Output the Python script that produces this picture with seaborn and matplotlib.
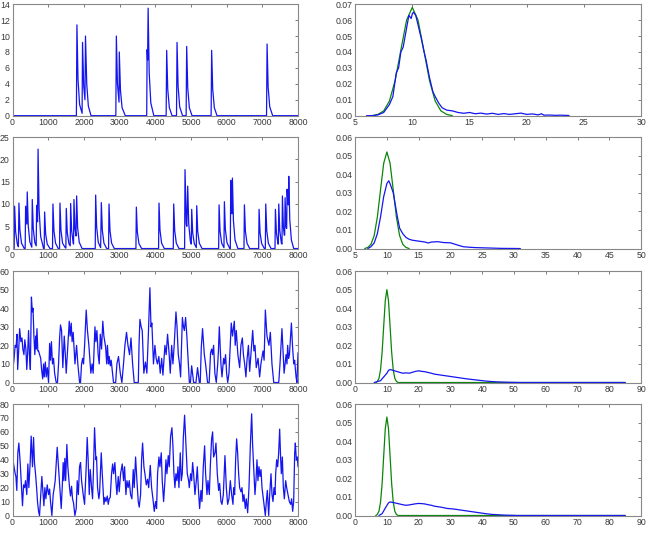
import numpy as np
import pandas as pd
import seaborn as sns
import matplotlib.pyplot as plt
from matplotlib.ticker import FormatStrFormatter

# --- time series (left column), vertices: (time, value) ---
ts1 = [(0, 0), (1790, 0), (1805, 11.4), (1835, 4.6), (1880, 1.4), (1950, 0.3), (1962, 9.2),
       (1995, 3.7), (2030, 2.0), (2045, 10.0), (2080, 4.0), (2125, 1.2), (2200, 0),
       (2895, 0), (2910, 10.0), (2940, 4.0), (2985, 1.7), (2992, 8.0), (3025, 3.2), (3070, 1.0),
       (3160, 0), (3760, 0), (3772, 8.3), (3785, 7.0), (3800, 13.5), (3830, 5.4), (3875, 1.6),
       (3960, 0), (4305, 0), (4320, 8.2), (4350, 3.3), (4395, 1.0), (4470, 0), (4595, 0),
       (4610, 9.2), (4640, 3.7), (4685, 1.1), (4765, 0), (4865, 0), (4880, 8.7), (4910, 3.5),
       (4955, 1.0), (5030, 0), (5565, 0), (5580, 8.2), (5610, 3.3), (5655, 1.0), (5730, 0),
       (7118, 0), (7133, 9.0), (7163, 3.6), (7208, 1.1), (7290, 0), (8000, 0)]

ts2 = [(0, 0), (47, 0), (59, 9.5), (87, 3.8), (132, 1.1), (165, 0.4), (180, 10.2), (208, 4.1),
       (253, 1.2), (330, 0), (355, 0), (367, 9.5), (400, 5.5), (413, 12.7), (441, 5.1),
       (486, 1.5), (540, 0.3), (554, 11.0), (582, 4.4), (627, 1.3), (664, 0.6), (676, 9.7),
       (702, 6.0), (716, 22.3), (744, 8.9), (789, 2.7), (870, 0), (888, 0), (900, 8.2),
       (928, 3.3), (973, 1.0), (1050, 0), (1121, 0), (1133, 10.0), (1161, 4.0), (1206, 1.2),
       (1281, 0), (1318, 0), (1330, 10.2), (1358, 4.1), (1403, 1.2), (1478, 0.2), (1495, 0.1),
       (1507, 9.0), (1535, 3.6), (1580, 1.1), (1617, 0.6), (1629, 10.1), (1657, 4.0),
       (1702, 1.2), (1710, 1.0), (1722, 11.0), (1750, 4.4), (1780, 2.8), (1797, 11.8),
       (1825, 4.7), (1870, 1.4), (1950, 0), (2318, 0), (2330, 12.0), (2358, 4.8), (2403, 1.4),
       (2470, 0.2), (2489, 10.3), (2517, 4.1), (2562, 1.2), (2640, 0), (2692, 0), (2704, 10.0),
       (2732, 4.0), (2777, 1.2), (2852, 0), (3458, 0), (3470, 9.3), (3498, 3.7), (3543, 1.1),
       (3618, 0), (4093, 0), (4105, 10.2), (4133, 4.1), (4178, 1.2), (4253, 0), (4505, 0),
       (4517, 10.0), (4545, 4.0), (4590, 1.2), (4665, 0), (4822, 0), (4834, 17.7), (4869, 5.5),
       (4885, 5.0), (4909, 14.0), (4937, 5.6), (4982, 1.7), (5009, 1.0), (5021, 8.8),
       (5049, 3.5), (5094, 1.1), (5150, 0.2), (5162, 9.6), (5190, 3.8), (5235, 1.2), (5310, 0),
       (5776, 0), (5788, 9.8), (5816, 3.9), (5861, 1.2), (5925, 0.2), (5937, 10.5), (5965, 4.2),
       (6010, 1.3), (6090, 0), (6103, 0), (6115, 15.3), (6138, 8.0), (6150, 7.8), (6162, 15.8),
       (6190, 6.3), (6235, 1.9), (6315, 0), (6486, 0), (6498, 9.8), (6526, 3.9), (6571, 1.2),
       (6646, 0), (6897, 0), (6909, 8.8), (6937, 3.5), (6982, 1.1), (7057, 0), (7084, 0),
       (7096, 10.0), (7124, 4.0), (7169, 1.2), (7244, 0), (7355, 0), (7367, 8.8), (7395, 3.5),
       (7440, 1.0), (7449, 1.0), (7461, 10.0), (7489, 4.0), (7534, 1.2), (7551, 1.0),
       (7563, 11.8), (7591, 4.7), (7615, 3.0), (7626, 3.0), (7638, 11.4), (7665, 4.8),
       (7682, 4.5), (7694, 13.3), (7715, 10.0), (7729, 9.8), (7741, 16.2), (7769, 6.5),
       (7814, 1.9), (7880, 0), (8000, 0)]

ts3 = [(0, 5.5), (40, 12), (75, 20), (100, 19), (125, 26), (145, 7), (175, 18), (200, 29),
       (235, 22), (265, 24), (290, 18), (320, 15), (345, 23), (375, 18), (400, 7), (425, 16),
       (450, 28), (475, 15), (500, 7), (530, 46), (555, 38), (575, 40), (600, 25), (625, 15),
       (650, 25), (665, 18), (685, 29), (710, 17), (730, 17), (760, 15), (790, 13), (815, 7),
       (845, 2), (870, 10), (890, 3), (920, 11), (945, 3), (975, 8), (1010, 0), (1040, 21),
       (1065, 12), (1090, 22), (1120, 10), (1150, 13), (1180, 5), (1225, 0), (1260, 0),
       (1290, 10), (1320, 24), (1345, 31), (1375, 28), (1410, 8), (1450, 25), (1480, 15),
       (1505, 5), (1550, 20), (1590, 33), (1615, 25), (1645, 32), (1670, 22), (1700, 27),
       (1750, 10), (1795, 20), (1830, 10), (1880, 0), (1905, 0), (1935, 10), (1965, 13),
       (1990, 10), (2020, 20), (2065, 39), (2100, 28), (2140, 20), (2195, 5), (2230, 10),
       (2260, 5), (2310, 30), (2335, 22), (2365, 28), (2400, 15), (2430, 10), (2460, 26),
       (2495, 18), (2530, 33), (2560, 25), (2610, 19), (2640, 10), (2660, 20), (2690, 10),
       (2710, 14), (2740, 9), (2765, 12), (2830, 0), (2890, 0), (2925, 10), (2970, 14),
       (3020, 5), (3065, 0), (3110, 10), (3150, 20), (3195, 27), (3235, 20), (3280, 15),
       (3320, 24), (3365, 10), (3410, 0), (3525, 0), (3545, 20), (3570, 34), (3605, 30),
       (3635, 28), (3680, 5), (3725, 11), (3765, 5), (3805, 25), (3850, 51), (3880, 30),
       (3905, 32), (3950, 10), (3990, 20), (4025, 13), (4060, 10), (4100, 14), (4140, 5),
       (4180, 13), (4215, 4), (4270, 20), (4305, 15), (4345, 26), (4390, 15), (4420, 5),
       (4460, 20), (4495, 10), (4530, 20), (4580, 38), (4610, 30), (4645, 15), (4680, 10),
       (4710, 3), (4740, 22), (4760, 35), (4790, 30), (4815, 28), (4850, 35), (4885, 25),
       (4905, 18), (4955, 0), (4985, 0), (5020, 9), (5075, 0), (5140, 0), (5185, 8), (5235, 0),
       (5260, 0), (5290, 19), (5325, 29), (5375, 15), (5410, 10), (5465, 0), (5510, 0),
       (5550, 16), (5580, 18), (5605, 15), (5635, 20), (5670, 5), (5710, 0), (5750, 10),
       (5770, 17), (5795, 30), (5840, 10), (5870, 3), (5915, 13), (5940, 10), (5970, 15),
       (6000, 5), (6030, 0), (6065, 5), (6100, 20), (6130, 32), (6165, 25), (6215, 33),
       (6240, 20), (6270, 28), (6315, 15), (6365, 8), (6400, 20), (6440, 24), (6470, 15),
       (6505, 10), (6540, 3), (6570, 12), (6610, 20), (6645, 6), (6680, 15), (6730, 28),
       (6765, 17), (6795, 20), (6830, 8), (6880, 13), (6925, 3), (6960, 10), (7020, 17),
       (7050, 12), (7085, 39), (7130, 25), (7185, 20), (7225, 27), (7270, 10), (7320, 0),
       (7460, 0), (7495, 10), (7550, 29), (7610, 5), (7665, 15), (7690, 10), (7710, 20),
       (7735, 13), (7760, 15), (7815, 32), (7845, 20), (7880, 10), (7905, 12), (7945, 3),
       (7970, 0), (8000, 16)]

ts4 = [(0, 43), (30, 37), (75, 30), (95, 28), (120, 18), (150, 45), (178, 52), (215, 38),
       (243, 24), (280, 7), (310, 22), (340, 20), (365, 25), (400, 15), (430, 37), (458, 20),
       (495, 38), (523, 57), (560, 35), (590, 56), (615, 38), (645, 30), (675, 20), (700, 10),
       (730, 3), (757, 0), (795, 17), (822, 28), (850, 18), (880, 7), (907, 20), (935, 12),
       (972, 22), (1010, 15), (1040, 19), (1065, 10), (1103, 0), (1140, 15), (1170, 20),
       (1196, 25), (1252, 49), (1300, 30), (1336, 15), (1365, 5), (1393, 20), (1420, 38),
       (1440, 25), (1467, 41), (1490, 25), (1523, 51), (1550, 35), (1598, 20), (1626, 14),
       (1655, 21), (1682, 12), (1710, 9), (1748, 0), (1785, 5), (1813, 25), (1845, 15),
       (1878, 35), (1906, 38), (1935, 25), (1981, 15), (2019, 8), (2065, 35), (2093, 56),
       (2120, 40), (2150, 15), (2178, 33), (2215, 20), (2243, 12), (2265, 30), (2299, 63),
       (2336, 40), (2355, 42), (2383, 20), (2420, 12), (2440, 16), (2486, 45), (2515, 30),
       (2561, 8), (2590, 13), (2617, 10), (2655, 14), (2682, 8), (2710, 12), (2738, 13),
       (2776, 30), (2805, 37), (2832, 30), (2869, 38), (2897, 25), (2925, 15), (2963, 28),
       (2990, 17), (3028, 30), (3075, 37), (3112, 25), (3140, 35), (3178, 15), (3206, 25),
       (3240, 20), (3271, 25), (3308, 15), (3345, 12), (3383, 33), (3410, 20), (3449, 42),
       (3486, 25), (3523, 10), (3551, 6), (3589, 15), (3617, 40), (3645, 52), (3682, 35),
       (3710, 30), (3748, 22), (3785, 26), (3815, 20), (3860, 36), (3897, 20), (3935, 12),
       (3972, 3), (4009, 10), (4037, 5), (4065, 30), (4103, 42), (4130, 35), (4168, 45),
       (4196, 25), (4234, 10), (4271, 25), (4299, 40), (4327, 30), (4364, 43), (4392, 35),
       (4430, 57), (4467, 63), (4495, 50), (4523, 30), (4551, 20), (4579, 30), (4607, 25),
       (4636, 35), (4664, 20), (4701, 45), (4729, 25), (4757, 30), (4785, 55), (4822, 72),
       (4860, 50), (4897, 30), (4935, 25), (4953, 20), (4991, 30), (5019, 25), (5047, 38),
       (5075, 30), (5112, 15), (5150, 25), (5178, 35), (5206, 20), (5243, 5), (5280, 18),
       (5308, 10), (5346, 35), (5383, 50), (5411, 30), (5449, 15), (5477, 25), (5514, 15),
       (5542, 35), (5579, 55), (5607, 60), (5635, 42), (5673, 45), (5701, 52), (5738, 30),
       (5776, 18), (5804, 23), (5841, 10), (5869, 8), (5907, 15), (5953, 43), (5991, 20),
       (6028, 8), (6065, 12), (6103, 25), (6140, 15), (6178, 8), (6196, 20), (6224, 15),
       (6252, 40), (6280, 55), (6308, 45), (6336, 30), (6364, 20), (6402, 17), (6430, 20),
       (6458, 10), (6486, 15), (6523, 5), (6551, 12), (6589, 2), (6626, 20), (6664, 50),
       (6701, 73), (6729, 50), (6766, 30), (6794, 15), (6822, 25), (6850, 40), (6878, 25),
       (6906, 35), (6934, 28), (6963, 33), (6991, 20), (7037, 10), (7084, 0), (7112, 10),
       (7140, 18), (7178, 0), (7206, 15), (7243, 30), (7271, 15), (7299, 10), (7327, 20),
       (7355, 15), (7374, 30), (7402, 40), (7430, 35), (7458, 45), (7486, 62), (7514, 40),
       (7533, 30), (7561, 42), (7589, 20), (7617, 12), (7654, 25), (7682, 20), (7720, 15),
       (7757, 10), (7795, 8), (7822, 12), (7850, 3), (7878, 10), (7907, 45), (7925, 52),
       (7953, 40), (7981, 42), (8000, 35)]

# --- distributions (right column): observed (blue) and reference bell (green) ---
obs1 = [(6.0, 0), (6.5, 0), (7.0, 0.0005), (7.5, 0.002), (8.0, 0.007), (8.3, 0.012),
        (8.6, 0.027), (8.8, 0.030), (9.0, 0.040), (9.2, 0.043), (9.5, 0.055), (9.7, 0.063),
        (9.9, 0.061), (10.0, 0.064), (10.1, 0.065), (10.3, 0.063), (10.5, 0.057),
        (10.8, 0.048), (11.0, 0.041), (11.2, 0.035), (11.5, 0.024), (11.8, 0.015),
        (12.0, 0.012), (12.3, 0.008), (12.6, 0.005), (13.0, 0.0035), (13.5, 0.003),
        (14.0, 0.002), (14.5, 0.0015), (15.0, 0.002), (15.5, 0.0012), (16.0, 0.0016),
        (16.5, 0.001), (17.0, 0.0015), (17.5, 0.0008), (18.0, 0.0013), (18.5, 0.0008),
        (19.0, 0.0012), (19.5, 0.0016), (20.0, 0.0008), (20.5, 0.0011), (21.0, 0.0005),
        (21.3, 0.0012), (21.5, 0.0003), (22.0, 0.0004), (22.5, 0.0002), (23.0, 0.0003),
        (23.7, 0.0001)]
ref1 = [(6.5, 0.0), (7.0, 0.0008), (7.5, 0.003), (8.0, 0.0092), (8.5, 0.0221), (9.0, 0.0413),
        (9.5, 0.060), (10.0, 0.068), (10.5, 0.060), (11.0, 0.0413), (11.5, 0.0221),
        (12.0, 0.0092), (12.5, 0.003), (13.0, 0.0008), (13.5, 0.0)]

obs2 = [(7.0, 0), (7.5, 0.001), (8.0, 0.003), (8.5, 0.008), (9.0, 0.017), (9.5, 0.028),
        (10.0, 0.035), (10.3, 0.0365), (10.6, 0.034), (11.0, 0.030), (11.3, 0.024),
        (11.6, 0.018), (12.0, 0.011), (12.5, 0.008), (13.0, 0.006), (13.5, 0.005),
        (14.0, 0.0045), (15.0, 0.004), (16.0, 0.0035), (16.5, 0.003), (17.0, 0.0035),
        (18.0, 0.0037), (19.0, 0.0032), (20.0, 0.0031), (21.0, 0.002), (22.0, 0.001),
        (23.0, 0.0007), (24.0, 0.0005), (25.0, 0.0004), (26.0, 0.0003), (27.0, 0.0002),
        (28.0, 0.0001), (30.0, 0.00005), (31.0, 0)]
ref2 = [(6.5, 0.0), (7.0, 0.0006), (7.5, 0.0023), (8.0, 0.007), (8.5, 0.0169), (9.0, 0.0316),
        (9.5, 0.0459), (10.0, 0.052), (10.5, 0.0459), (11.0, 0.0316), (11.5, 0.0169),
        (12.0, 0.007), (12.5, 0.0023), (13.0, 0.0006), (13.5, 0.0)]

obs3 = [(6.0, 0), (8.0, 0.001), (9.0, 0.003), (10.0, 0.005), (10.5, 0.0065), (11.0, 0.007),
        (12.0, 0.0065), (13.0, 0.006), (14.0, 0.0055), (15.0, 0.005), (16.0, 0.0052),
        (17.0, 0.005), (18.0, 0.0055), (19.0, 0.006), (20.0, 0.0063), (21.0, 0.006),
        (22.0, 0.0058), (24.0, 0.005), (25.0, 0.0045), (27.0, 0.004), (29.0, 0.0035),
        (31.0, 0.003), (33.0, 0.0025), (35.0, 0.002), (37.0, 0.0016), (39.0, 0.0012),
        (41.0, 0.0008), (43.0, 0.0005), (45.0, 0.0003), (47.0, 0.0002), (49.0, 0.0001),
        (52.0, 0.0), (85.0, 0.0)]
ref3 = [(6.5, 0.0), (7.0, 0.0006), (7.5, 0.0022), (8.0, 0.0068), (8.5, 0.0163), (9.0, 0.0304),
        (9.5, 0.0441), (10.0, 0.050), (10.5, 0.0441), (11.0, 0.0304), (11.5, 0.0163),
        (12.0, 0.0068), (12.5, 0.0022), (13.0, 0.0006), (13.5, 0.0), (85.0, 0.0)]

obs4 = [(7.5, 0), (8.5, 0.001), (9.5, 0.004), (10.5, 0.0068), (11.0, 0.0073), (12.0, 0.007),
        (13.0, 0.0066), (14.0, 0.0062), (15.0, 0.0058), (16.0, 0.0055), (17.0, 0.0057),
        (18.0, 0.006), (19.0, 0.0063), (20.0, 0.0065), (21.0, 0.0064), (22.0, 0.0062),
        (23.0, 0.0058), (24.0, 0.0055), (25.0, 0.005), (27.0, 0.0045), (29.0, 0.0038),
        (31.0, 0.0035), (33.0, 0.003), (35.0, 0.0025), (37.0, 0.002), (39.0, 0.0015),
        (41.0, 0.001), (43.0, 0.0006), (45.0, 0.0004), (47.0, 0.0002), (49.0, 0.0001),
        (51.0, 0.0), (85.0, 0.0)]
ref4 = [(6.5, 0.0), (7.0, 0.0006), (7.5, 0.0023), (8.0, 0.0072), (8.5, 0.0172), (9.0, 0.0321),
        (9.5, 0.0468), (10.0, 0.053), (10.5, 0.0468), (11.0, 0.0321), (11.5, 0.0172),
        (12.0, 0.0072), (12.5, 0.0023), (13.0, 0.0006), (13.5, 0.0), (85.0, 0.0)]

# axis limits / ticks per row
left_ymax = [14, 25, 60, 80]
left_ystep = [2, 5, 10, 10]
right_xlim = [(5, 30), (5, 50), (0, 90), (0, 90)]
right_xstep = [5, 5, 10, 10]
right_ymax = [0.07, 0.06, 0.06, 0.06]

BLUE = "#1515f0"
GREEN = "#0a860a"

sns.set_style("white")
plt.rcParams['font.family'] = ['Liberation Sans', 'DejaVu Sans']


def style_axes(ax):
    ax.tick_params(direction='in', top=True, right=True, length=2, width=0.6,
                   color='#666666', labelsize=6.3, labelcolor='#3a3a3a', pad=2)
    for s in ax.spines.values():
        s.set_color('#888888')
        s.set_linewidth(0.8)
    ax.set_xlabel('')
    ax.set_ylabel('')


fig = plt.figure(figsize=(6.48, 5.38), dpi=100)
bottoms = [0.785, 0.538, 0.289, 0.0418]
series = [ts1, ts2, ts3, ts4]
obs = [obs1, obs2, obs3, obs4]
refs = [ref1, ref2, ref3, ref4]

for r in range(4):
    # left: time series
    axl = fig.add_axes([0.0193, bottoms[r], 0.4406, 0.2072])
    df = pd.DataFrame(series[r], columns=["t", "v"])
    sns.lineplot(data=df, x="t", y="v", ax=axl, color=BLUE, linewidth=0.9,
                 estimator=None, sort=False)
    axl.set_xlim(0, 8000)
    axl.set_ylim(0, left_ymax[r])
    axl.set_xticks(range(0, 8001, 1000))
    axl.set_yticks(range(0, left_ymax[r] + 1, left_ystep[r]))
    style_axes(axl)

    # right: distributions
    axr = fig.add_axes([0.548, bottoms[r], 0.4414, 0.2072])
    dfo = pd.DataFrame(obs[r], columns=["x", "p"])
    dfr = pd.DataFrame(refs[r], columns=["x", "p"])
    sns.lineplot(data=dfr, x="x", y="p", ax=axr, color=GREEN, linewidth=0.9,
                 estimator=None, sort=False)
    sns.lineplot(data=dfo, x="x", y="p", ax=axr, color=BLUE, linewidth=0.9,
                 estimator=None, sort=False)
    x0, x1 = right_xlim[r]
    axr.set_xlim(x0, x1)
    axr.set_ylim(0, right_ymax[r])
    axr.set_xticks(range(x0, x1 + 1, right_xstep[r]))
    axr.set_yticks(np.arange(0, right_ymax[r] + 0.001, 0.01))
    axr.yaxis.set_major_formatter(FormatStrFormatter('%.2f'))
    style_axes(axr)

fig.savefig("out.png", dpi=100)
plt.close(fig)
